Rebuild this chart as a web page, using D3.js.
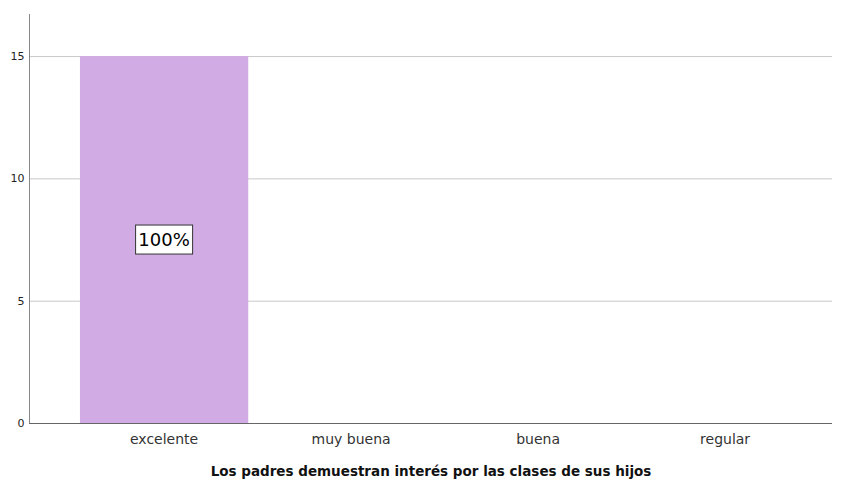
<!DOCTYPE html>
<html>
<head>
<meta charset="utf-8">
<script src="https://cdn.jsdelivr.net/npm/d3@7"></script>
<style>
  body { margin: 0; background: #fff; }
  text { font-family: "DejaVu Sans", sans-serif; }
</style>
</head>
<body>
<script>
var width = 846,
    height = 481;

// data
var categories = ["excelente", "muy buena", "buena", "regular"];
var counts = [15, 0, 0, 0];
var labels = ["100%", "", "", ""];
var yTicks = [0, 5, 10, 15];
var xTitle = "Los padres demuestran interés por las clases de sus hijos";

var svg = d3.select("body").append("svg")
    .attr("width", width)
    .attr("height", height);

var x = d3.scaleBand()
    .domain(categories)
    .range([70.6, 818.6])
    .paddingInner(0.1)
    .paddingOuter(0.05);

var y = d3.scaleLinear()
    .domain([0, 16.72])
    .range([423, 14]);

// gridlines
svg.append("g").selectAll("line")
    .data(yTicks.filter(d => d > 0))
  .enter().append("line")
    .attr("x1", 29).attr("x2", 832)
    .attr("y1", d => y(d) + 0.5).attr("y2", d => y(d) + 0.5)
    .style("stroke", "#c8c8c8")
    .style("stroke-width", 1);

// bars
svg.append("g").selectAll("rect")
    .data(counts)
  .enter().append("rect")
    .attr("x", (d, i) => x(categories[i]))
    .attr("width", x.bandwidth())
    .attr("y", d => y(d))
    .attr("height", d => y(0) - y(d))
    .style("fill", "#d1abe4");

// value labels
var lab = svg.append("g").selectAll("g")
    .data(counts.map((d, i) => ({v: d, c: categories[i], t: labels[i]})).filter(d => d.t))
  .enter().append("g")
    .attr("transform", d => "translate(" + (x(d.c) + x.bandwidth() / 2) + "," + y(d.v / 2) + ")");

lab.append("rect")
    .attr("x", -28.5).attr("y", -14.5)
    .attr("width", 57).attr("height", 29)
    .style("fill", "#fff")
    .style("stroke", "#333")
    .style("stroke-width", 1);

lab.append("text")
    .text(d => d.t)
    .attr("text-anchor", "middle")
    .attr("dy", "0.36em")
    .style("font-size", "18px")
    .style("fill", "#000");

// y axis
var yAxis = svg.append("g")
    .attr("transform", "translate(29.5,0)")
    .call(d3.axisLeft(y).tickValues(yTicks).tickSize(0).tickPadding(5));
yAxis.select(".domain").remove();
yAxis.selectAll("text").style("font-size", "11px").style("fill", "#222");
svg.append("line")
    .attr("x1", 29.5).attr("x2", 29.5)
    .attr("y1", 14).attr("y2", 424)
    .style("stroke", "#888");

// x axis
var xAxis = svg.append("g")
    .attr("transform", "translate(0," + 423.5 + ")")
    .call(d3.axisBottom(x).tickSize(0).tickPadding(10.5));
xAxis.select(".domain").remove();
xAxis.selectAll("text").style("font-size", "14px").style("fill", "#333");
svg.append("line")
    .attr("x1", 29).attr("x2", 832)
    .attr("y1", 423.5).attr("y2", 423.5)
    .style("stroke", "#666");

svg.append("text")
    .text(xTitle)
    .attr("x", 431)
    .attr("y", 476)
    .attr("text-anchor", "middle")
    .style("font-size", "13.5px")
    .style("font-weight", "bold")
    .style("fill", "#111");
</script>
</body>
</html>
